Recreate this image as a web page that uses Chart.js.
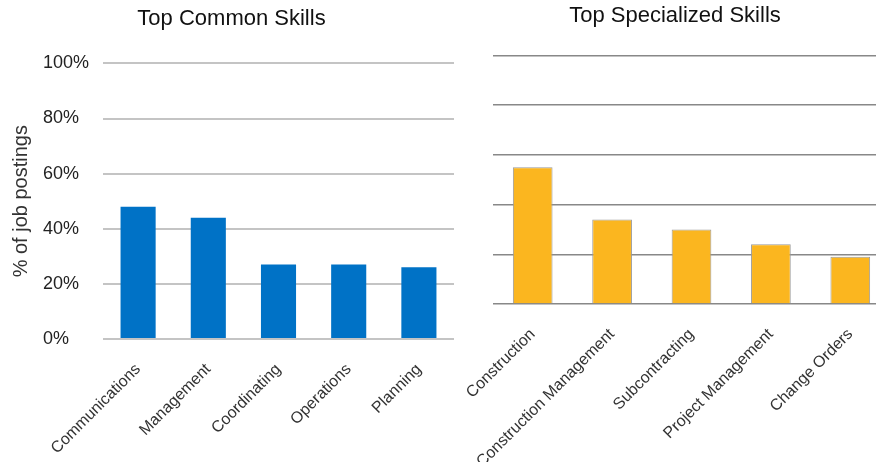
<!DOCTYPE html>
<html>
<head>
<meta charset="utf-8">
<script src="https://cdn.jsdelivr.net/npm/chart.js@4.4.0/dist/chart.umd.min.js"></script>
<style>
    html, body { margin: 0; padding: 0; background: #fff; }
    body { position: relative; width: 876px; height: 462px; overflow: hidden; }
    #commonChart { position: absolute; left: 0; top: 0; }
    #specialChart { position: absolute; left: 460px; top: 0; }
</style>
</head>
<body>
<canvas id="commonChart" width="460" height="462"></canvas>
<canvas id="specialChart" width="430" height="462"></canvas>
<script>
const commonSkills = ['Communications', 'Management', 'Coordinating', 'Operations', 'Planning'];
const commonShare = [48, 44, 27, 27, 26];

const specializedSkills = ['Construction', 'Construction Management', 'Subcontracting', 'Project Management', 'Change Orders'];
const specializedShare = [55, 34, 30, 24, 19];

const FONT = "'Liberation Sans', Arial, sans-serif";

document.addEventListener("DOMContentLoaded", () => {
    renderCommon();
    renderSpecialized();
});

// rotated category labels, no auto padding so the plot keeps its place
function categoryAxis(height) {
    return {
        grid: { display: false },
        border: { display: false },
        ticks: {
            color: '#333',
            font: { family: FONT, size: 16 },
            minRotation: 45, maxRotation: 45,
            autoSkip: false,
            padding: 13
        },
        afterFit: s => {
            s.height = height;
            s.paddingLeft = 0;
            s.paddingRight = 0;
        }
    };
}

function renderCommon() {
    new Chart(document.getElementById('commonChart'), {
        type: 'bar',
        data: {
            labels: commonSkills,
            datasets: [{
                data: commonShare,
                backgroundColor: '#0072C6',
                categoryPercentage: 1,
                barPercentage: 0.5
            }]
        },
        options: {
            responsive: false,
            animation: false,
            layout: { padding: { left: 9, right: 6, top: 0, bottom: 0 } },
            plugins: {
                legend: { display: false },
                tooltip: { enabled: false },
                title: {
                    display: true,
                    text: 'Top Common Skills',
                    color: '#111',
                    font: { family: FONT, size: 22, weight: 'normal' },
                    padding: { top: 6, bottom: 31 }
                }
            },
            scales: {
                x: categoryAxis(123),
                y: {
                    min: 0, max: 100,
                    grid: { color: '#C4C4C4', lineWidth: 2, drawTicks: false },
                    border: { display: false },
                    ticks: {
                        stepSize: 20,
                        crossAlign: 'far',
                        color: '#222',
                        font: { family: FONT, size: 18 },
                        callback: v => v + '%'
                    },
                    afterFit: s => { s.width = 60; }
                },
                // outer axis only carries the axis title
                yTitle: {
                    type: 'linear',
                    position: 'left',
                    weight: 10,
                    grid: { display: false },
                    border: { display: false },
                    ticks: { display: false },
                    title: {
                        display: true,
                        text: '% of job postings',
                        color: '#333',
                        font: { family: FONT, size: 20 },
                        padding: 0
                    },
                    afterFit: s => { s.width = 34; }
                }
            }
        }
    });
}

function renderSpecialized() {
    new Chart(document.getElementById('specialChart'), {
        type: 'bar',
        data: {
            labels: specializedSkills,
            datasets: [{
                data: specializedShare,
                backgroundColor: '#FBB61F',
                borderColor: '#9A9A9A',
                borderWidth: 1,
                categoryPercentage: 1,
                barPercentage: 0.5
            }]
        },
        options: {
            responsive: false,
            animation: false,
            layout: { padding: 0 },
            plugins: {
                legend: { display: false },
                tooltip: { enabled: false },
                title: {
                    display: true,
                    text: 'Top Specialized Skills',
                    color: '#111',
                    font: { family: FONT, size: 22, weight: 'normal' },
                    padding: { top: 3, bottom: 26 }
                }
            },
            scales: {
                x: categoryAxis(158),
                y: {
                    min: 0, max: 100,
                    grid: { color: '#888', lineWidth: 1.5, drawTicks: false },
                    border: { display: false },
                    ticks: { stepSize: 20, display: false },
                    afterFit: s => { s.width = 33; }
                }
            }
        }
    });
}
</script>
</body>
</html>
